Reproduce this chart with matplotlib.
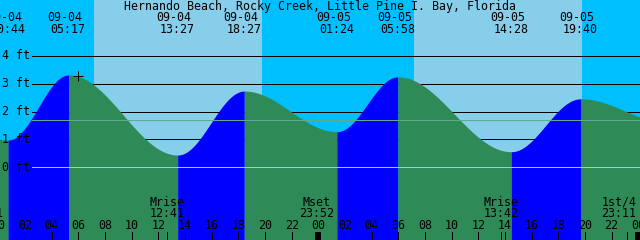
import numpy as np
import matplotlib
matplotlib.use("Agg")
import matplotlib.pyplot as plt
from datetime import datetime

# ---------------- data ----------------
title = "Hernando Beach, Rocky Creek, Little Pine I. Bay, Florida"
ref_day = "09-04"

tide_times = ["09-03 17:40", "09-04 00:44", "09-04 05:17", "09-04 13:27", "09-04 18:27",
              "09-05 01:24", "09-05 05:58", "09-05 14:28", "09-05 19:40", "09-06 02:10"]
tide_heights = [2.60, 0.98, 3.32, 0.44, 2.74, 1.28, 3.25, 0.56, 2.46, 1.62]

sunrise_times = ["09-04 07:11", "09-05 07:11"]
sunset_times = ["09-04 19:47", "09-05 19:47"]

moon_labels = ["Mset", "Mrise", "Mset", "Mrise", "1st/4"]
moon_times = ["09-03 23:01", "09-04 12:41", "09-04 23:52", "09-05 13:42", "09-05 23:11"]

now_time = "09-04 05:59"
mean_level = 1.69
ft_levels = [0, 1, 2, 3, 4]
hour_ticks = list(range(0, 49, 2))

# ---------------- colours ----------------
C_DAY = "#87CEEB"
C_NIGHT = "#00BFFF"
C_RISE = "#0000FF"
C_FALL = "#2E8B57"
C_DATUM = "#8CCFE6"
C_MSL = "#5FAA8C"

# ---------------- geometry helpers (pixel <-> data) ----------------
W, H = 640, 240
PX_PER_H = 13.333
X0 = -1.7
Y0 = 167.3
PX_PER_FT = 27.83


def hx(px):
    return (px - X0) / PX_PER_H


def fy(py):
    return (Y0 - py) / PX_PER_FT


def to_hours(s):
    d = datetime.strptime("2000-" + s, "%Y-%m-%d %H:%M")
    r = datetime.strptime("2000-" + ref_day + " 00:00", "%Y-%m-%d %H:%M")
    return (d - r).total_seconds() / 3600.0


t_ext = np.array([to_hours(s) for s in tide_times])
h_ext = np.array(tide_heights)


def tide_at(t):
    t = np.atleast_1d(t).astype(float)
    out = np.empty_like(t)
    for k, tt in enumerate(t):
        i = np.searchsorted(t_ext, tt) - 1
        i = min(max(i, 0), len(t_ext) - 2)
        f = (tt - t_ext[i]) / (t_ext[i + 1] - t_ext[i])
        out[k] = h_ext[i] + (h_ext[i + 1] - h_ext[i]) * (1 - np.cos(np.pi * f)) / 2
    return out


fig = plt.figure(figsize=(6.4, 2.4), dpi=100)
fig.patch.set_facecolor(C_NIGHT)
ax = fig.add_axes([0, 0, 1, 1])
ax.set_axis_off()
xmin, xmax = hx(0), hx(W)
ymin, ymax = fy(H), fy(0)
ax.set_xlim(xmin, xmax)
ax.set_ylim(ymin, ymax)

FS = 8.4
MONO = "DejaVu Sans Mono"
LW = 0.72

# day bands
for sr, ss in zip(sunrise_times, sunset_times):
    ax.axvspan(to_hours(sr), to_hours(ss), color=C_DAY, lw=0, zorder=0)

# grid lines (under the tide)
x_line_start = hx(32)
for lv in ft_levels:
    if lv == 0:
        continue
    ax.plot([x_line_start, xmax], [lv, lv], color="black", lw=LW, zorder=1,
            antialiased=False)

# tide fill
for i in range(len(t_ext) - 1):
    a, b = t_ext[i], t_ext[i + 1]
    if b < xmin - 1 or a > xmax + 1:
        continue
    tt = np.linspace(a, b, 200)
    hh = tide_at(tt)
    col = C_RISE if h_ext[i + 1] > h_ext[i] else C_FALL
    ax.fill_between(tt, hh, ymin - 1, color=col, lw=0, zorder=2, antialiased=False)

# datum and mean lines over the tide
ax.plot([x_line_start, xmax], [0, 0], color=C_DATUM, lw=LW, zorder=3, antialiased=False)
ax.plot([x_line_start, xmax], [mean_level, mean_level], color=C_MSL, lw=LW, zorder=3,
        antialiased=False)

# y labels
for lv in ft_levels:
    ax.text(hx(1.5), lv, f"{lv} ft", family=MONO, fontsize=FS, ha="left", va="center",
            zorder=4)

# title
ax.text(hx(320), fy(6), title, family=MONO, fontsize=FS, ha="center", va="center", zorder=4)

# extrema labels
for s in tide_times:
    t = to_hours(s)
    xp = X0 + t * PX_PER_H
    date, hm = s.split(" ")
    ax.text(hx(xp - 3.5), fy(17), date, family=MONO, fontsize=FS, ha="center",
            va="center", zorder=4)
    ax.text(hx(xp - 0.5), fy(29.5), hm, family=MONO, fontsize=FS, ha="center",
            va="center", zorder=4)

# current time marker
tn = to_hours(now_time)
ax.plot([tn], tide_at(tn), marker="+", color="black", ms=7, mew=LW, zorder=5)

# bottom ticks
for h in hour_ticks:
    ax.plot([h, h], [fy(232), fy(240)], color="black", lw=LW, zorder=4, antialiased=False)
    if h % 24 == 0:
        ax.plot([h, h], [fy(232), fy(240)], color="black", lw=2.9, zorder=4,
                solid_capstyle="butt", antialiased=False)
    ax.text(h, fy(225.5), f"{h % 24:02d}", family=MONO, fontsize=FS, ha="center",
            va="center", zorder=4)

# moon events
for lab, s in zip(moon_labels, moon_times):
    t = to_hours(s)
    ax.plot([t, t], [fy(232), fy(240)], color="black", lw=LW, zorder=4, antialiased=False)
    xp = X0 + t * PX_PER_H
    xp = min(xp, 619)
    hm = s.split(" ")[1]
    ax.text(hx(xp), fy(202), lab, family=MONO, fontsize=FS, ha="center", va="center",
            zorder=4)
    ax.text(hx(xp), fy(213.5), hm, family=MONO, fontsize=FS, ha="center", va="center",
            zorder=4)

fig.savefig("out.png", dpi=100, facecolor=fig.get_facecolor())
